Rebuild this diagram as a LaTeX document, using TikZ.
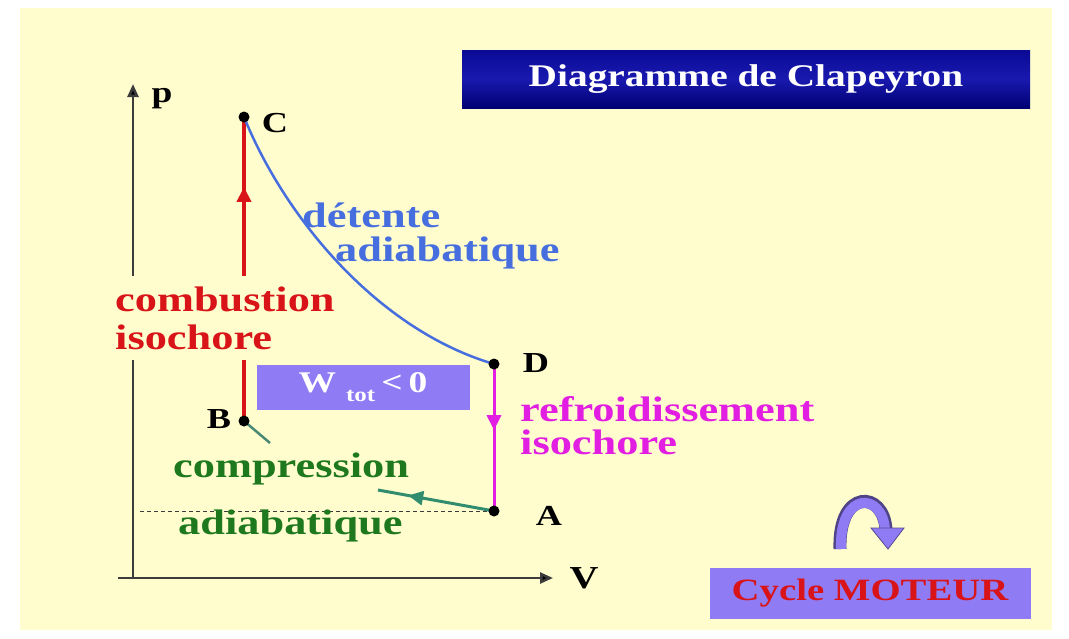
\documentclass[tikz,border=0pt]{standalone}
\usepackage{fontspec}
\setmainfont{Liberation Serif}[FakeStretch=1.25]
\usetikzlibrary{arrows.meta,decorations.markings}
\definecolor{cream}{RGB}{255,253,205}
\definecolor{navytop}{RGB}{10,10,150}
\definecolor{navymid}{RGB}{25,25,175}
\definecolor{navybot}{RGB}{0,0,115}
\definecolor{lav}{RGB}{143,124,245}
\definecolor{redc}{RGB}{216,20,24}
\definecolor{bluec}{RGB}{70,110,222}
\definecolor{magc}{RGB}{225,30,225}
\definecolor{greenc}{RGB}{30,120,30}
\definecolor{tealc}{RGB}{50,140,110}
\definecolor{axisc}{RGB}{60,60,60}
\begin{document}
\begin{tikzpicture}[x=1pt,y=-1pt,
  lbl/.style={font=\fontsize{35.5}{36}\selectfont\bfseries, inner sep=0pt, align=left, anchor=west},
  dot/.style={circle, fill=black, inner sep=0pt, minimum size=11pt},
  ptlbl/.style={font=\fontsize{29}{30}\selectfont\bfseries, inner sep=0pt, text=black},
  axisline/.style={draw=axisc, line width=2.5pt, -{Triangle[length=13pt,width=11pt,fill=black]}},
  midarrow/.style={postaction={decorate}, decoration={markings, mark=at position #1 with {\arrow{Triangle[length=15pt,width=14pt]}}}},
  boxlav/.style={fill=lav, inner sep=0pt}
]
\useasboundingbox (0,0) rectangle (1069,638);
\fill[white] (0,0) rectangle (1069,638);
\fill[cream] (20,8) rectangle (1052,630);

% coordinates
\coordinate (O) at (133,578);
\coordinate (Ptop) at (133,84);
\coordinate (Hst) at (118,578);
\coordinate (Vend) at (553,578);
\coordinate (A) at (494,511);
\coordinate (B) at (244,421);
\coordinate (C) at (244,117);
\coordinate (D) at (494,364);
\coordinate (Dash0) at (140,511);
\coordinate (G1) at (378,490);
\coordinate (G2) at (270,443);

% axes
\draw[axisline] (O) -- (Ptop);
\draw[axisline] (Hst) -- (Vend);
\node[ptlbl, font=\fontsize{30}{30}\selectfont\bfseries] (plbl) at (162,99) {p};
\node[ptlbl, font=\fontsize{32}{32}\selectfont\bfseries] (Vlbl) at (584,578) {V};

% dashed reference
\draw[axisc, line width=0.9pt, dash pattern=on 4pt off 3pt] (Dash0) -- (A);

% isochores
\draw[redc, line width=3.5pt, midarrow=0.77] (B) -- (C);
\draw[magc, line width=3pt, midarrow=0.45] (D) -- (A);

% compression
\draw[tealc, line width=3pt, midarrow=0.74] (A) -- (G1);
\draw[tealc!70!gray, line width=2.5pt] (B) -- (G2);

% combustion label covers lines
\node[lbl, text=redc, fill=cream, inner xsep=3pt, inner ysep=11pt, font=\fontsize{35.5}{38}\selectfont\bfseries] (comb) at (112,318) {combustion\\isochore};

% adiabatic expansion
\draw[bluec, line width=2.5pt] (C) .. controls (285,218) and (378,330) .. (D);

% dots
\node[dot] (dA) at (A) {};
\node[dot] (dB) at (B) {};
\node[dot] (dC) at (C) {};
\node[dot] (dD) at (D) {};
\node[ptlbl] (lA) at (549,516) {A};
\node[ptlbl] (lB) at (219,419) {B};
\node[ptlbl] (lC) at (275,123) {C};
\node[ptlbl] (lD) at (536,363) {D};

% labels
\node[lbl, text=bluec, font=\fontsize{35.5}{34}\selectfont\bfseries] (det) at (302,236) {détente\\\hspace*{33pt}adiabatique};
\node[lbl, text=magc, font=\fontsize{35.5}{33}\selectfont\bfseries] (refr) at (520,426) {refroidissement\\isochore};
\node[lbl, text=greenc, font=\fontsize{35.5}{57}\selectfont\bfseries] (compr) at (173,497) {compression\\\hspace*{5pt}adiabatique};

% work box
\node[boxlav, minimum width=213pt, minimum height=45pt, text=white] (W) at (363,387)
 {{\fontsize{30}{30}\selectfont\bfseries W}\hspace{10pt}\raisebox{-9pt}{\fontsize{20}{20}\selectfont\bfseries tot}\hspace{6pt}{\fontsize{30}{30}\selectfont\bfseries <\hspace{6pt}0}};

% title
\node[top color=navytop, bottom color=navybot, middle color=navymid, inner sep=0pt, minimum width=568pt, minimum height=58pt, text=white, font=\fontsize{31.5}{32}\selectfont\bfseries] (title) at (746,79) {Diagramme de Clapeyron};

% cycle moteur
\node[boxlav, minimum width=321pt, minimum height=51pt, text=redc, font=\fontsize{31}{31}\selectfont\bfseries] (cyc) at (870,593) {Cycle MOTEUR};

% curved arrow
\draw[line width=13pt, color=lav!55!black] (840,549) .. controls (838,488) and (884,490) .. (886,530);
\draw[line width=10pt, color=lav] (841,549) .. controls (839,490) and (883,492) .. (885,530);
\fill[lav, draw=lav!60!black, line width=0.8pt] (871,528) -- (904,528) -- (888,549) -- cycle;
\end{tikzpicture}
\end{document}
